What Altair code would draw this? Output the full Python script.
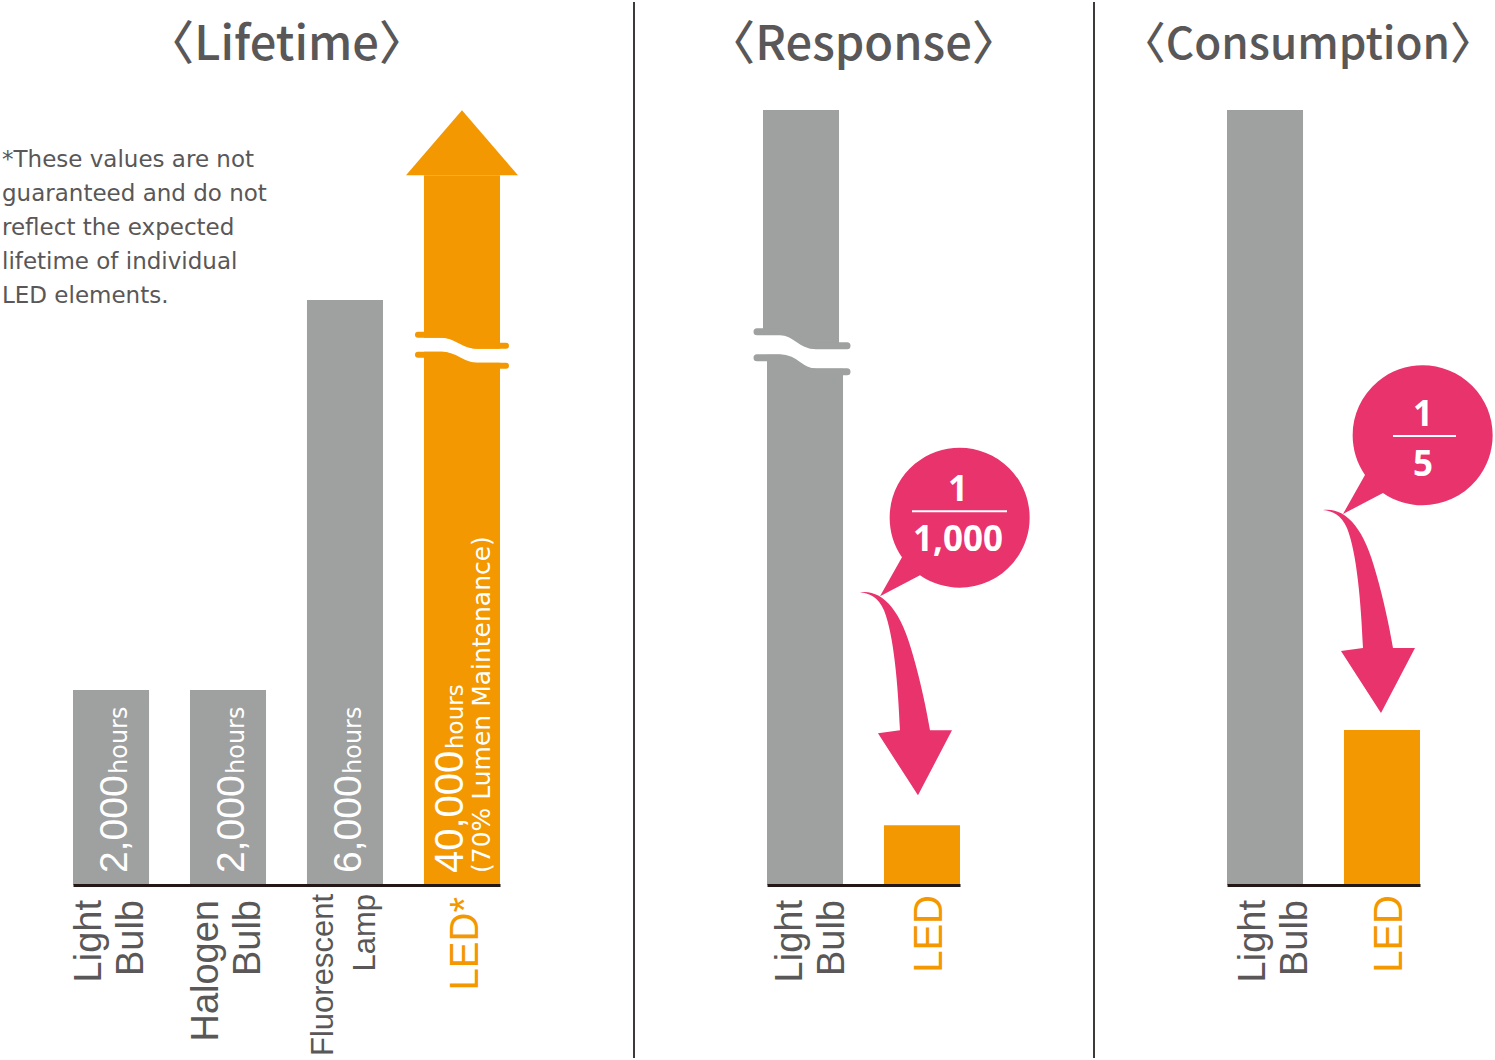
import altair as alt
import pandas as pd

# ---------------- data ----------------
LIFETIME_CATEGORIES = ["Light Bulb", "Halogen Bulb", "Fluorescent Lamp", "LED"]
LIFETIME_HOURS = [2000, 2000, 6000, 40000]
LIFETIME_UNIT = "hours"
LIFETIME_LED_NOTE = "(70% Lumen Maintenance)"
LIFETIME_AXIS_TOP = 7950        # visible top of the broken hours axis
LIFETIME_ARROW_START = 7280     # LED bar turns into an arrow here
LIFETIME_BREAK_AT = 5480        # axis-break marker on the LED bar

RESPONSE_CATEGORIES = ["Light Bulb", "LED"]
RESPONSE_SHOWN = [100, 7.7]     # bar heights as drawn (broken axis)
RESPONSE_AXIS_TOP = 100
RESPONSE_BREAK_AT = 68.8
RESPONSE_RATIO = ["1", "1,000"]

CONSUMPTION_CATEGORIES = ["Light Bulb", "LED"]
CONSUMPTION_RELATIVE = [5, 1]
CONSUMPTION_AXIS_TOP = 5
CONSUMPTION_RATIO = ["1", "5"]

PANEL_TITLES = ["〈Lifetime〉", "〈Response〉", "〈Consumption〉"]
FOOTNOTE_LINES = [
    "*These values are not",
    "guaranteed and do not",
    "reflect the expected",
    "lifetime of individual",
    "LED elements.",
]

# ---------------- style ----------------
GRAY = "#9fa0a0"
ORANGE = "#f39800"
PINK = "#e8336d"
TEXT = "#595757"
BASELINE = "#231815"
DIVIDER = "#3e3a39"

PLOT_H = 775
W1 = 427
W23 = 193
GAP = 267

LABEL_FONT = "Liberation Sans"
SMALL_FONT = "DejaVu Sans"
TITLE_FONT = "Noto Sans CJK JP"
BOLD_FONT = "Noto Sans"

HEAD = "M -56 0 L 0 -65 L 56 0 Z"
ARROW = ("M -58 -203 C -36 -206 -17 -186 -5 -140 C 3 -112 8 -88 12 -65 "
         "L 34 -65 L 0 0 L -40 -62 L -18 -65 "
         "C -20 -110 -24 -160 -34 -185 C -40 -198 -48 -202 -58 -203 Z")
BUBBLE = "M -16 -238 A 70 70 0 1 1 2 -220 L -38 -199 Z"
WAVE1 = "M -44 -6 L -20 -6 C -5 -6 0 5 15 5 L 44 5"
WAVE2 = "M -45 -7 L -22 -7 C -6 -7 -2 7 14 7 L 45 7"


def x_enc(cats):
    return alt.X(
        "category:N", sort=cats, title=None,
        scale=alt.Scale(paddingInner=0.35, paddingOuter=0),
        axis=alt.Axis(labels=False, ticks=False, grid=False, title=None,
                      domainColor=BASELINE, domainWidth=3, zindex=2),
    )


def y_field(field, top=None):
    if top is None:
        return alt.Y(f"{field}:Q", axis=None)
    return alt.Y(f"{field}:Q", scale=alt.Scale(domain=[0, top], nice=False), axis=None)


def y_at(v):
    return alt.YDatum(v, axis=None)


def one_row():
    return alt.Chart(pd.DataFrame({"k": [0]}))


def break_marks(base, X, cat, value, wave, color, gap_w, lip_w, off, dx):
    b = base.transform_filter(alt.datum.category == cat)
    common = dict(shape=wave, size=4, filled=False, opacity=1, strokeCap="round", xOffset=dx)
    white = b.mark_point(color="white", stroke="white", strokeWidth=gap_w, **common).encode(x=X, y=y_at(value))
    top = b.mark_point(color=color, stroke=color, strokeWidth=lip_w, yOffset=-off, **common).encode(x=X, y=y_at(value))
    bot = b.mark_point(color=color, stroke=color, strokeWidth=lip_w, yOffset=off, **common).encode(x=X, y=y_at(value))
    return [white, top, bot]


def callout(base, X, Y, ratio, apex_dx, apex_dy, num_dy, line_dy, line_x, line_half, den_dy, text_dx):
    b = base.transform_filter(alt.datum.category == "LED")
    pos = dict(xOffset=apex_dx, yOffset=apex_dy)
    arrow = b.mark_point(shape=ARROW, size=4, filled=True, opacity=1, color=PINK, **pos).encode(x=X, y=Y)
    bubble = b.mark_point(shape=BUBBLE, size=4, filled=True, opacity=1, color=PINK, **pos).encode(x=X, y=Y)
    line_path = f"M {line_x - line_half} {line_dy} L {line_x + line_half} {line_dy}"
    line = b.mark_point(shape=line_path, size=4, filled=False, opacity=1, color="white",
                        stroke="white", strokeWidth=2, **pos).encode(x=X, y=Y)
    tx = dict(font=BOLD_FONT, fontWeight="bold", fontSize=35, color="white",
              align="center", baseline="middle", dx=apex_dx + text_dx)
    num = b.mark_text(text=ratio[0], dy=apex_dy + num_dy, **tx).encode(x=X, y=Y)
    den = b.mark_text(text=ratio[1], dy=apex_dy + den_dy, **tx).encode(x=X, y=Y)
    return [arrow, bubble, line, num, den]


def title_layer(text, x, size, align="center"):
    return alt.Chart(pd.DataFrame({"t": [text]})).mark_text(
        font=TITLE_FONT, fontSize=size, fontWeight=500, color=TEXT,
        align=align, baseline="middle",
    ).encode(x=alt.value(x), y=alt.value(-64), text="t:N")


def divider_layer(x):
    return one_row().mark_rule(color=DIVIDER, strokeWidth=2).encode(
        x=alt.value(x), y=alt.value(-108), y2=alt.value(PLOT_H + 173))


def frame_layer(x):
    # invisible edge that fixes the page bounds
    return one_row().mark_rule(opacity=0, strokeOpacity=0).encode(
        x=alt.value(x), y=alt.value(-110), y2=alt.value(PLOT_H + 175))


LAB = dict(angle=270, align="right", baseline="alphabetic", lineBreak=" ", lineHeight=42)
VAL = dict(angle=270, align="left", baseline="alphabetic", color="white")

# ---------------- panel 1: lifetime ----------------
df1 = pd.DataFrame({"category": LIFETIME_CATEGORIES, "hours": LIFETIME_HOURS})
b1 = alt.Chart(df1).transform_calculate(shown=f"min(datum.hours, {LIFETIME_ARROW_START})")
X1 = x_enc(LIFETIME_CATEGORIES)
Y1 = y_field("shown", LIFETIME_AXIS_TOP)
over = f"datum.hours > {LIFETIME_ARROW_START}"
under = f"datum.hours <= {LIFETIME_ARROW_START}"

bars1 = b1.mark_bar().encode(
    x=X1, y=Y1, color=alt.condition(over, alt.value(ORANGE), alt.value(GRAY)))
head1 = b1.transform_filter(over).mark_point(
    shape=HEAD, size=4, filled=True, opacity=1, color=ORANGE).encode(x=X1, y=Y1)
breaks1 = break_marks(b1, X1, "LED", LIFETIME_BREAK_AT, WAVE1, ORANGE, 14, 6, 10, 0)

val_gray = b1.transform_filter(under).mark_text(
    dx=12, dy=16, font=LABEL_FONT, fontSize=39, **VAL).encode(
    x=X1, y=y_at(0), text=alt.Text("hours:Q", format=","))
unit_gray = b1.transform_filter(under).mark_text(
    text=LIFETIME_UNIT, dx=111, dy=16, font=SMALL_FONT, fontSize=24, **VAL).encode(x=X1, y=y_at(0))
val_led = b1.transform_filter(over).mark_text(
    dx=12, dy=1, font=LABEL_FONT, fontSize=40, **VAL).encode(
    x=X1, y=y_at(0), text=alt.Text("hours:Q", format=","))
unit_led = b1.transform_filter(over).mark_text(
    text=LIFETIME_UNIT, dx=136, dy=1, font=SMALL_FONT, fontSize=23, **VAL).encode(x=X1, y=y_at(0))
note_led = b1.transform_filter(over).mark_text(
    text=LIFETIME_LED_NOTE, dx=12, dy=28, font=SMALL_FONT, fontSize=25, **VAL).encode(x=X1, y=y_at(0))

lab1 = b1.transform_filter(
    "datum.category == 'Light Bulb' || datum.category == 'Halogen Bulb'").mark_text(
    dx=-15, dy=-10, font=LABEL_FONT, fontSize=38, color=TEXT, **LAB).encode(
    x=X1, y=y_at(0), text="category:N")
lab1_fl = b1.transform_filter("datum.category == 'Fluorescent Lamp'").mark_text(
    dx=-9, dy=-12, font=LABEL_FONT, fontSize=31, color=TEXT, **LAB).encode(
    x=X1, y=y_at(0), text="category:N")
lab1_led = b1.transform_filter("datum.category == 'LED'").transform_calculate(
    label="datum.category + '*'").mark_text(
    dx=-12, dy=16, font=LABEL_FONT, fontSize=40, color=ORANGE, **LAB).encode(
    x=X1, y=y_at(0), text="label:N")

note = alt.Chart(pd.DataFrame({"note": ["\n".join(FOOTNOTE_LINES)]})).mark_text(
    align="left", baseline="alphabetic", lineBreak="\n", lineHeight=34,
    font=SMALL_FONT, fontSize=23, color=TEXT).encode(
    x=alt.value(-71), y=alt.value(57), text="note:N")

panel1 = alt.layer(
    bars1, head1, *breaks1, val_gray, unit_gray, val_led, unit_led, note_led,
    lab1, lab1_fl, lab1_led, note, title_layer(PANEL_TITLES[0], W1 / 2, 47), frame_layer(-73),
).properties(width=W1, height=PLOT_H)

# ---------------- panel 2: response ----------------
df2 = pd.DataFrame({"category": RESPONSE_CATEGORIES, "value": RESPONSE_SHOWN})
b2 = alt.Chart(df2)
X2 = x_enc(RESPONSE_CATEGORIES)
Y2 = y_field("value", RESPONSE_AXIS_TOP)
is_led = "datum.category == 'LED'"

lower2 = b2.transform_calculate(lo=f"min(datum.value, {RESPONSE_BREAK_AT})").mark_bar().encode(
    x=X2, y=y_field("lo"), color=alt.condition(is_led, alt.value(ORANGE), alt.value(GRAY)))
upper2 = b2.transform_filter(f"datum.value > {RESPONSE_BREAK_AT}").mark_bar(
    color=GRAY, xOffset=-4).encode(x=X2, y=Y2, y2=alt.Y2Datum(RESPONSE_BREAK_AT))
breaks2 = break_marks(b2, X2, "Light Bulb", RESPONSE_BREAK_AT, WAVE2, GRAY, 20, 7, 13, -3)
call2 = callout(b2, X2, Y2, RESPONSE_RATIO, -4, -30, -305, -284, 41.5, 47.5, -255.5, 40)
lab2 = b2.transform_filter("datum.category != 'LED'").mark_text(
    dx=-15, dy=-3, font=LABEL_FONT, fontSize=38, color=TEXT, **LAB).encode(
    x=X2, y=y_at(0), text="category:N")
lab2_led = b2.transform_filter(is_led).mark_text(
    dx=-10, dy=20, font=LABEL_FONT, fontSize=40, color=ORANGE, **LAB).encode(
    x=X2, y=y_at(0), text="category:N")

panel2 = alt.layer(
    lower2, upper2, *breaks2, *call2, lab2, lab2_led,
    title_layer(PANEL_TITLES[1], W23 / 2, 47), divider_layer(-133),
).properties(width=W23, height=PLOT_H)

# ---------------- panel 3: consumption ----------------
df3 = pd.DataFrame({"category": CONSUMPTION_CATEGORIES, "value": CONSUMPTION_RELATIVE})
b3 = alt.Chart(df3)
X3 = x_enc(CONSUMPTION_CATEGORIES)
Y3 = y_field("value", CONSUMPTION_AXIS_TOP)

bars3 = b3.mark_bar().encode(
    x=X3, y=Y3, color=alt.condition(is_led, alt.value(ORANGE), alt.value(GRAY)))
call3 = callout(b3, X3, Y3, CONSUMPTION_RATIO, -1, -17, -298.5, -277, 43.5, 31.5, -248.5, 42)
lab3 = b3.transform_filter("datum.category != 'LED'").mark_text(
    dx=-15, dy=0, font=LABEL_FONT, fontSize=38, color=TEXT, **LAB).encode(
    x=X3, y=y_at(0), text="category:N")
lab3_led = b3.transform_filter(is_led).mark_text(
    dx=-10, dy=20, font=LABEL_FONT, fontSize=40, color=ORANGE, **LAB).encode(
    x=X3, y=y_at(0), text="category:N")

panel3 = alt.layer(
    bars3, *call3, lab3, lab3_led,
    title_layer(PANEL_TITLES[2], W23 + 74, 44, "right"), divider_layer(-133), frame_layer(W23 + 75),
).properties(width=W23, height=PLOT_H)

chart = alt.hconcat(panel1, panel2, panel3, spacing=GAP, bounds="flush").properties(
    padding=0, background="white"
).configure_view(stroke=None)

chart.save("out.html", embed_options={"renderer": "svg", "actions": False})
